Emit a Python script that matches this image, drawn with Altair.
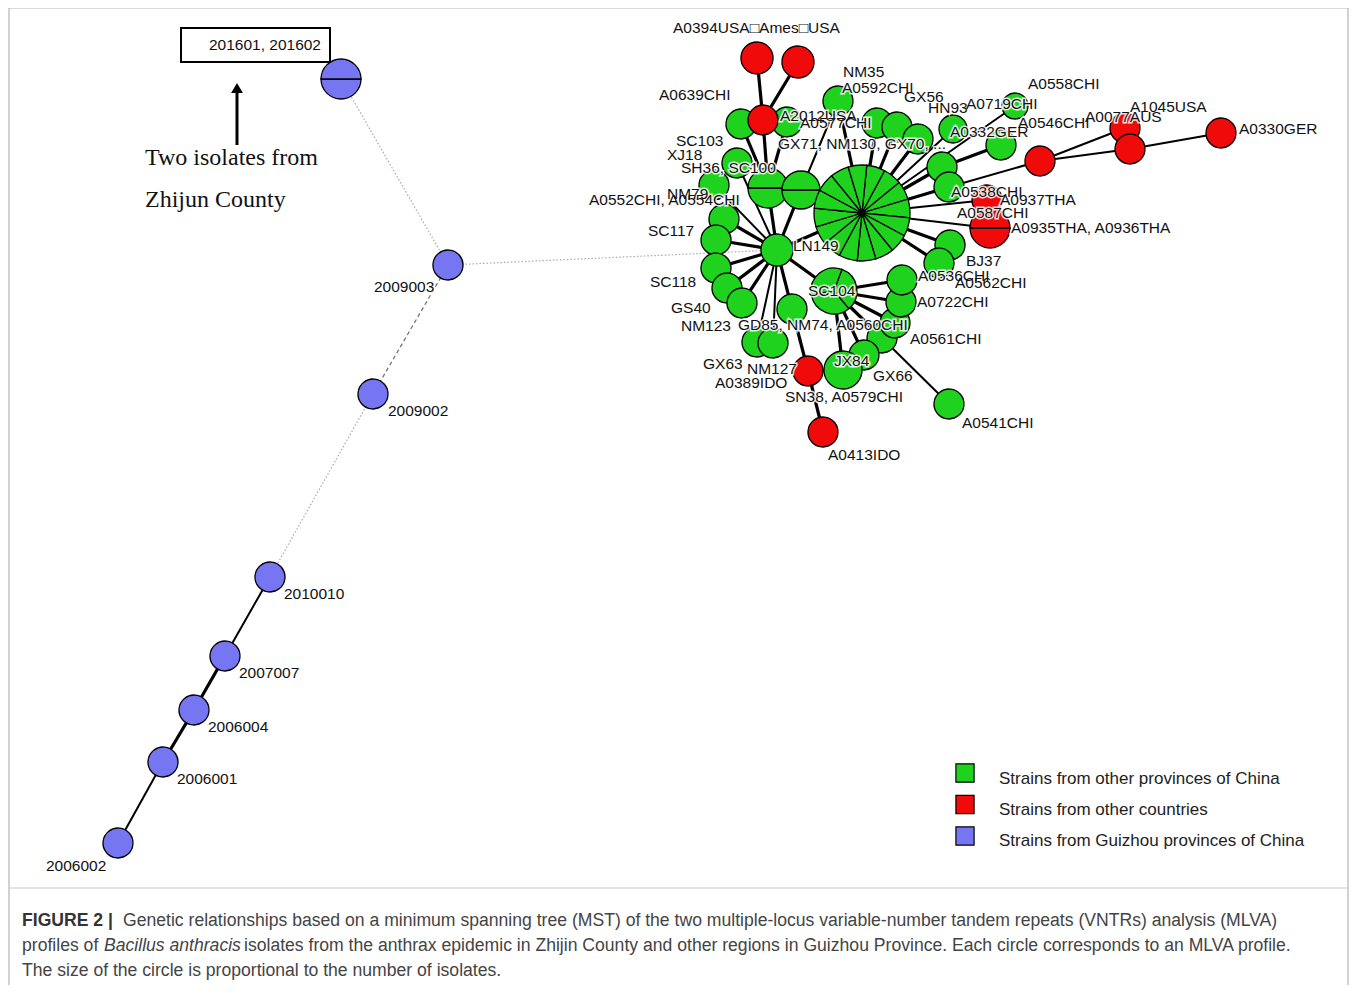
import math
import altair as alt
import pandas as pd

# ---------------- data ----------------
groups = ["China", "Foreign", "Guizhou"]
group_colors = ["#1ED21E", "#F00A0A", "#7676F2"]
legend_labels = ["Strains from other provinces of China",
                 "Strains from other countries",
                 "Strains from Guizhou provinces of China"]

node_id = ["B1", "B2", "B3", "B4", "B5", "B6", "B7", "B8",
           "H", "LN", "SH", "GX71", "a0639", "a0577", "a2012", "a0394", "ames",
           "nm35", "gx56a", "gx56b", "gx56c", "hn93", "a0719", "a0332", "e1", "e2",
           "rmid", "a0077", "a1045", "a0330", "a0538", "a0935", "bj37", "a0536b",
           "sc103", "xj18", "l1", "l2", "l3", "l4", "l5", "nm123a", "nm123b", "gd85",
           "SC104", "a0536", "a0722", "a0561", "gx66", "jx84b", "jx84", "sn38", "a0413", "a0541"]
node_x = [341, 448, 373, 270, 225, 194, 163, 118,
          862, 777, 768, 801, 741, 787, 763, 757, 798,
          838, 877, 897, 918, 953, 1015, 1001, 942, 949,
          1040, 1125, 1130, 1221, 987, 990, 950, 939,
          737, 714, 724, 716, 716, 727, 742, 757, 773, 792,
          834, 902, 901, 895, 882, 864, 843, 808, 823, 949]
node_y = [79, 265, 394, 577, 656, 710, 762, 843,
          213, 250, 188, 190, 124, 122, 120, 58, 62,
          101, 123, 127, 139, 129, 106, 145, 167, 187,
          161, 128, 149, 133, 200, 228, 245, 263,
          163, 185, 219, 240, 268, 288, 303, 342, 343, 309,
          291, 280, 302, 323, 338, 355, 370, 371, 432, 404]
node_r = [20, 15, 15, 15, 15, 15, 15, 15,
          48, 16, 20, 19, 15, 15, 15, 16, 16,
          15, 15, 15, 15, 14, 13, 15, 15, 15,
          15, 15, 15, 15, 15, 20, 15, 15,
          15, 15, 15, 15, 15, 15, 15, 15, 15, 15,
          23, 15, 15, 15, 15, 15, 19, 15, 15, 15]
node_group = ["Guizhou"] * 8 + [
    "China", "China", "China", "China", "China", "China", "Foreign", "Foreign", "Foreign",
    "China", "China", "China", "China", "China", "China", "China", "China", "China",
    "Foreign", "Foreign", "Foreign", "Foreign", "Foreign", "Foreign", "China", "China",
    "China", "China", "China", "China", "China", "China", "China", "China", "China", "China",
    "China", "China", "China", "China", "China", "China", "China", "Foreign", "Foreign", "China"]
node_parts = [2, 1, 1, 1, 1, 1, 1, 1,
              16, 1, 2, 2, 1, 1, 1, 1, 1,
              1, 1, 1, 1, 1, 1, 1, 1, 1,
              1, 1, 1, 1, 1, 2, 1, 1,
              1, 1, 1, 1, 1, 1, 1, 1, 1, 1,
              3, 1, 1, 1, 1, 1, 1, 1, 1, 1]
# draw order: later nodes on top
node_order = ["B1", "B2", "B3", "B4", "B5", "B6", "B7", "B8",
              "a0639", "a0577", "a2012", "a0394", "ames", "nm35", "gx56a", "gx56b", "gx56c",
              "hn93", "a0719", "a0332", "e1", "e2", "rmid", "a0330", "a0077", "a1045",
              "a0538", "a0935", "bj37", "a0536b", "sc103", "xj18", "l1", "l2", "l3", "l4", "l5",
              "nm123a", "nm123b", "gd85", "SH", "GX71", "H", "LN", "SC104",
              "a0541", "gx66", "a0561", "a0722", "a0536", "jx84b", "jx84", "sn38", "a0413"]

edge_from = ["B1", "B2", "B2", "B3", "B4", "B5", "B6", "B7",
             "H", "H", "H", "H", "H", "H", "H", "H", "H", "H", "e1", "e2", "rmid", "rmid", "a1045",
             "H", "H", "H", "H",
             "LN", "LN", "LN", "LN", "LN", "LN", "LN", "LN", "LN", "LN", "LN", "LN", "LN",
             "SH", "SH", "SH", "a2012", "a2012",
             "SC104", "SC104", "SC104", "SC104", "SC104", "SC104",
             "jx84", "gd85", "sn38", "gx66", "GX71"]
edge_to = ["B2", "LN", "B3", "B4", "B5", "B6", "B7", "B8",
           "LN", "GX71", "nm35", "gx56a", "gx56b", "gx56c", "hn93", "a0719", "e1", "e2", "a0332", "rmid", "a0077", "a1045", "a0330",
           "a0538", "a0935", "bj37", "a0536b",
           "SH", "GX71", "sc103", "xj18", "l1", "l2", "l3", "l4", "l5", "nm123a", "nm123b", "gd85", "SC104",
           "a0639", "a2012", "a0577", "a0394", "ames",
           "a0536", "a0722", "a0561", "gx66", "jx84b", "jx84",
           "sn38", "sn38", "a0413", "a0541", "nm35"]
edge_kind = ["dot", "dot", "dash", "dot", "thin", "thick", "thick", "thin",
             "thick", "thick", "thick", "thick", "thick", "thick", "thin", "thin", "thick", "thick", "thick", "thin", "thin", "thin", "thin",
             "thin", "thin", "thick", "thick",
             "thick", "thick", "thin", "thin", "thick", "thick", "thick", "thick", "thick", "thin", "thin", "thick", "thick",
             "thick", "thick", "thick", "thick", "thick",
             "thick", "thick", "thick", "thick", "thick", "thick",
             "mid", "thick", "thick", "thin", "thin"]

label_text = ["A0394USA\u25a1Ames\u25a1USA", "A0639CHI", "NM35", "A0592CHI", "GX56", "HN93", "A0719CHI",
              "A0558CHI", "A0546CHI", "A0077AUS", "A1045USA", "A0330GER", "A2012USA", "A0577CHI",
              "A0332GER", "SC103", "XJ18", "SH36, SC100", "GX71, NM130, GX70, ...", "NM79",
              "A0552CHI, A0554CHI", "A0538CHI", "A0937THA", "A0587CHI", "A0935THA, A0936THA",
              "SC117", "LN149", "BJ37", "A0536CHI", "A0562CHI", "SC118", "SC104", "A0722CHI",
              "GS40", "NM123", "GD85, NM74, A0560CHI", "A0561CHI", "JX84", "GX63", "NM127",
              "GX66", "A0389IDO", "SN38, A0579CHI", "A0413IDO", "A0541CHI",
              "2009003", "2009002", "2010010", "2007007", "2006004", "2006001", "2006002"]
label_x = [673, 659, 843, 842, 904, 928, 966,
           1028, 1018, 1085, 1130, 1239, 780, 800,
           950, 676, 667, 681, 778, 667,
           589, 951, 1000, 957, 1011,
           648, 793, 966, 918, 955, 650, 808, 917,
           671, 681, 738, 910, 834, 703, 747,
           873, 715, 785, 828, 962,
           374, 388, 284, 239, 208, 177, 46]
label_y = [28, 95, 72, 88, 97, 108, 104,
           84, 123, 117, 107, 129, 116, 123,
           132, 141, 155, 168, 144, 194,
           200, 192, 200, 213, 228,
           231, 246, 261, 276, 283, 282, 291, 302,
           308, 326, 325, 339, 361, 364, 369,
           376, 383, 397, 455, 423,
           287, 411, 594, 673, 727, 779, 866]

caption_line1 = "Genetic relationships based on a minimum spanning tree (MST) of the two multiple-locus variable-number tandem repeats (VNTRs) analysis (MLVA)"
caption_line2a = "profiles of"
caption_line2b = "Bacillus anthracis"
caption_line2c = "isolates from the anthrax epidemic in Zhijin County and other regions in Guizhou Province. Each circle corresponds to an MLVA profile."
caption_line3 = "The size of the circle is proportional to the number of isolates."

# ---------------- build tables ----------------
W, H_ = 1341, 977
xs = alt.Scale(domain=[8, 8 + W], nice=False, zero=False)
ys = alt.Scale(domain=[8, 8 + H_], reverse=True, nice=False, zero=False)
cs = alt.Scale(domain=groups, range=group_colors)

nodes = pd.DataFrame({"id": node_id, "x": node_x, "y": node_y, "r": node_r,
                      "g": node_group, "n": node_parts})
pos = nodes.set_index("id")

seg_rows = []
for order, nid in enumerate(node_order):
    row = pos.loc[nid]
    n = int(row["n"])
    offset = math.pi / 2 if n == 2 else (0.35 if n == 3 else 0.1)
    for k in range(n):
        t0 = offset + 2 * math.pi * k / n
        t1 = offset + 2 * math.pi * (k + 1) / n
        seg_rows.append({"id": nid, "x": row["x"], "y": row["y"], "r": row["r"],
                         "g": row["g"], "t0": t0, "t1": t1, "o": order * 100 + k})
segs = pd.DataFrame(seg_rows)

edges = pd.DataFrame({
    "x": [pos.loc[a, "x"] for a in edge_from], "y": [pos.loc[a, "y"] for a in edge_from],
    "x2": [pos.loc[b, "x"] for b in edge_to], "y2": [pos.loc[b, "y"] for b in edge_to],
    "kind": edge_kind})
solid = edges[edges.kind.isin(["thick", "thin", "mid"])]
dotted = edges[edges.kind == "dot"]
dashed = edges[edges.kind == "dash"]

labels = pd.DataFrame({"t": label_text, "x": label_x, "y": label_y})

FONT = "Liberation Sans"
LS = 15.5

def X(f="x"):
    return alt.X(f, type="quantitative", scale=xs, axis=None)

def Y(f="y"):
    return alt.Y(f, type="quantitative", scale=ys, axis=None)

# frame
frame = alt.Chart(pd.DataFrame({"x": [9], "x2": [1348], "y": [8], "y2": [992]})).mark_rect(
    fill=None, stroke="#b5b5b5", strokeWidth=1.2).encode(x=X(), x2="x2", y=Y(), y2="y2")
sep = alt.Chart(pd.DataFrame({"x": [9], "x2": [1348], "y": [888]})).mark_rule(
    color="#c8c8c8", strokeWidth=1).encode(x=X(), x2="x2", y=Y())

solid_l = alt.Chart(solid).mark_rule(color="black").encode(
    x=X(), y=Y(), x2="x2", y2="y2",
    strokeWidth=alt.StrokeWidth("kind:N", scale=alt.Scale(domain=["thick", "mid", "thin"], range=[3.2, 2, 0.9]), legend=None))
dot_l = alt.Chart(dotted).mark_rule(color="#a8a8a8", strokeWidth=1.2, strokeDash=[1.5, 2]).encode(
    x=X(), y=Y(), x2="x2", y2="y2")
dash_l = alt.Chart(dashed).mark_rule(color="#777777", strokeWidth=1.3, strokeDash=[4, 3]).encode(
    x=X(), y=Y(), x2="x2", y2="y2")

node_l = alt.Chart(segs).mark_arc(stroke="black", strokeWidth=1.3).encode(
    x=X(), y=Y(),
    theta=alt.Theta("t0:Q", scale=None), theta2="t1:Q",
    radius=alt.Radius("r:Q", scale=None),
    color=alt.Color("g:N", scale=cs, legend=None),
    order=alt.Order("o:Q"))

hub_dot = alt.Chart(pos.loc[["H"]].reset_index()).mark_circle(color="black", size=30, opacity=1).encode(x=X(), y=Y())

halo = alt.Chart(labels).mark_text(align="left", baseline="middle", font=FONT, fontSize=LS,
                                   stroke="white", strokeWidth=3, strokeOpacity=0.85, fill="white").encode(
    x=X(), y=Y(), text="t:N")
lab = alt.Chart(labels).mark_text(align="left", baseline="middle", font=FONT, fontSize=LS, color="#111").encode(
    x=X(), y=Y(), text="t:N")

# annotation box and arrow
box = alt.Chart(pd.DataFrame({"x": [181], "x2": [330], "y": [28], "y2": [62]})).mark_rect(
    fill="white", stroke="black", strokeWidth=2).encode(x=X(), x2="x2", y=Y(), y2="y2")
box_text = alt.Chart(pd.DataFrame({"t": ["201601, 201602"], "x": [321], "y": [45]})).mark_text(
    align="right", baseline="middle", font=FONT, fontSize=LS, color="#111").encode(x=X(), y=Y(), text="t:N")
arrow = alt.Chart(pd.DataFrame({"x": [237], "y": [145], "y2": [92]})).mark_rule(
    color="black", strokeWidth=3).encode(x=X(), y=Y(), y2="y2")
arrow_head = alt.Chart(pd.DataFrame({"x": [237], "y": [88]})).mark_point(
    shape="triangle-up", filled=True, color="black", size=140, opacity=1).encode(x=X(), y=Y())
note = alt.Chart(pd.DataFrame({"t": ["Two isolates from", "Zhijun County"], "x": [145, 145], "y": [158, 200]})).mark_text(
    align="left", baseline="middle", font="Liberation Serif", fontSize=24, color="#111").encode(x=X(), y=Y(), text="t:N")

# legend
leg = pd.DataFrame({"g": groups, "t": legend_labels, "i": [0, 1, 2]})
leg_sq = alt.Chart(leg).transform_calculate(x="965", y="773 + 31.5*datum.i").mark_square(
    size=330, stroke="black", strokeWidth=1.2, opacity=1).encode(
    x=X("x:Q"), y=Y("y:Q"), color=alt.Color("g:N", scale=cs, legend=None))
leg_tx = alt.Chart(leg).transform_calculate(x="999", y="779 + 31*datum.i").mark_text(
    align="left", baseline="middle", font=FONT, fontSize=17, color="#222").encode(
    x=X("x:Q"), y=Y("y:Q"), text="t:N")

# caption
CS = 17.6
cap_bold = alt.Chart(pd.DataFrame({"t": ["FIGURE 2 |"], "x": [22], "y": [921]})).mark_text(
    align="left", baseline="middle", font=FONT, fontSize=CS, fontWeight="bold", color="#333").encode(x=X(), y=Y(), text="t:N")
cap_norm = alt.Chart(pd.DataFrame({"t": [caption_line1, caption_line2a, caption_line2c, caption_line3],
                                   "x": [123, 22, 244, 22], "y": [921, 946, 946, 971]})).mark_text(
    align="left", baseline="middle", font=FONT, fontSize=CS, color="#444").encode(x=X(), y=Y(), text="t:N")
cap_ital = alt.Chart(pd.DataFrame({"t": [caption_line2b], "x": [104], "y": [946]})).mark_text(
    align="left", baseline="middle", font=FONT, fontSize=CS, fontStyle="italic", color="#444").encode(x=X(), y=Y(), text="t:N")

chart = alt.layer(frame, sep, dot_l, dash_l, solid_l, node_l, hub_dot, halo, lab,
                  box, box_text, arrow, arrow_head, note, leg_sq, leg_tx,
                  cap_bold, cap_norm, cap_ital).properties(
    width=W, height=H_, padding=0, autosize=alt.AutoSizeParams(type="none"),
    background="white").configure_view(stroke=None)

chart.save("out.html", embed_options={"renderer": "svg", "actions": False})
